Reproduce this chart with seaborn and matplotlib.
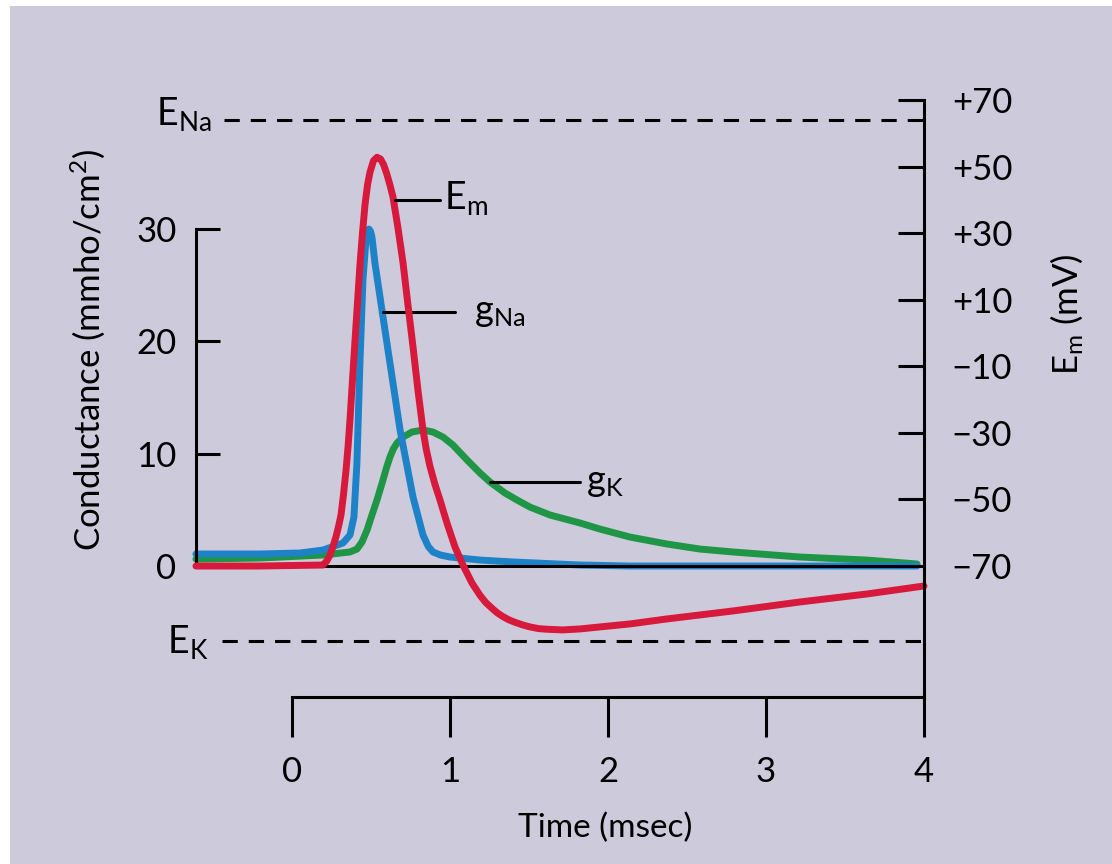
import matplotlib
matplotlib.use("Agg")
import matplotlib.pyplot as plt
from matplotlib.patches import Rectangle
import numpy as np
import pandas as pd
import seaborn as sns

# ---------------- data ----------------
# membrane potential E_m (mV) vs time (msec)
t_em = [-0.608, -0.203, 0.196, 0.220, 0.241, 0.260, 0.278, 0.295, 0.310, 0.326,
        0.342, 0.355, 0.367, 0.383, 0.399, 0.415, 0.430, 0.446, 0.462, 0.478,
        0.494, 0.516, 0.538, 0.560, 0.580, 0.600, 0.620, 0.639, 0.671, 0.703,
        0.734, 0.766, 0.797, 0.829, 0.850, 0.873, 0.905, 0.937, 0.981, 1.032,
        1.082, 1.139, 1.190, 1.225, 1.266, 1.300, 1.335, 1.370, 1.411, 1.460,
        1.506, 1.560, 1.614, 1.715, 1.823, 1.949, 2.139, 2.373, 2.791, 3.215,
        3.639, 4.000]
em_mv = [-70.0, -70.0, -69.7, -68.5, -66.7, -64.0, -61.3, -58.0, -54.7, -48.5,
         -41.2, -34.0, -26.1, -14.0, -2.1, 9.5, 20.4, 30.0, 38.5, 44.5,
         48.4, 51.8, 52.8, 52.3, 50.6, 47.8, 44.5, 40.9, 31.5, 21.0,
         8.4, -4.2, -17.1, -29.1, -35.0, -40.0, -45.5, -50.2, -57.1, -64.3,
         -69.7, -75.1, -78.8, -80.9, -82.7, -84.1, -85.2, -86.1, -86.9, -87.7,
         -88.3, -88.8, -89.0, -89.2, -88.9, -88.3, -87.4, -85.9, -83.5, -80.8,
         -78.4, -76.0]

# sodium conductance g_Na (mmho/cm2)
t_gna = [-0.608, -0.203, 0.051, 0.196, 0.323, 0.367, 0.392, 0.411, 0.430, 0.449,
         0.468, 0.478, 0.487, 0.497, 0.506, 0.525, 0.576, 0.620, 0.684, 0.766,
         0.829, 0.862, 0.892, 0.940, 1.000, 1.190, 1.399, 1.823, 2.139, 3.956]
g_na = [1.07, 1.07, 1.16, 1.42, 2.05, 2.76, 4.36, 9.17, 18.07, 25.46,
        29.02, 29.8, 30.0, 29.8, 29.29, 26.97, 22.17, 18.07, 12.11, 6.14,
        2.76, 1.75, 1.25, 0.98, 0.80, 0.53, 0.36, 0.09, 0.0, 0.0]

# potassium conductance g_K (mmho/cm2)
t_gk = [-0.608, -0.203, 0.196, 0.367, 0.411, 0.443, 0.475, 0.506, 0.538, 0.576,
        0.598, 0.620, 0.642, 0.665, 0.703, 0.759, 0.829, 0.892, 0.956, 1.019,
        1.108, 1.190, 1.253, 1.348, 1.424, 1.506, 1.633, 1.823, 1.949, 2.139,
        2.373, 2.582, 2.791, 3.215, 3.639, 3.956]
g_k = [0.62, 0.71, 0.98, 1.25, 1.51, 2.14, 3.20, 4.54, 5.88, 7.66,
       8.75, 9.70, 10.45, 10.95, 11.48, 11.93, 12.11, 11.93, 11.48, 10.77,
       9.44, 8.28, 7.48, 6.50, 5.88, 5.25, 4.54, 3.83, 3.29, 2.58,
       1.96, 1.51, 1.25, 0.80, 0.53, 0.18]

E_NA = 64.0   # mV
E_K = -92.5   # mV

x_ticks = [0, 1, 2, 3, 4]
g_ticks = [0, 10, 20, 30]
mv_ticks = [-70, -50, -30, -10, 10, 30, 50, 70]
mv_ticklabels = ["\u221270", "\u221250", "\u221230", "\u221210", "+10", "+30", "+50", "+70"]

# ---------------- style ----------------
sns.set_theme(style="white")
FONT = ["Lato", "DejaVu Sans"]
plt.rcParams["font.family"] = FONT
plt.rcParams["axes.edgecolor"] = "black"
plt.rcParams["mathtext.default"] = "regular"

BG = "#cdcadc"
RED = "#d7193c"
BLUE = "#1e82c8"
GREEN = "#1e9646"
LW = 5.0
AX_LW = 2.2
FS = 25

fig = plt.figure(figsize=(11.12, 8.64), dpi=100)
fig.patch.set_facecolor("white")
fig.patches.append(Rectangle((10 / 1112, 0), 1, 1 - 6 / 864, transform=fig.transFigure,
                             facecolor=BG, edgecolor="none", zorder=-10))

W, H = 1112, 864
L, R, T, B = 150, 1000, 80, 760
ax = fig.add_axes([L / W, 1 - B / H, (R - L) / W, (B - T) / H])
ax.set_facecolor("none")

XLIM = (-0.8987, 4.481)
GLIM = (-17.27, 43.27)
MV_PER_G = 3.3747
MVLIM = (-70 + GLIM[0] * MV_PER_G, -70 + GLIM[1] * MV_PER_G)
X_LEFT = -0.608

df_na = pd.DataFrame({"t": t_gna, "g": g_na})
df_k = pd.DataFrame({"t": t_gk, "g": g_k})
df_em = pd.DataFrame({"t": t_em, "mv": em_mv})

sns.lineplot(data=df_k, x="t", y="g", ax=ax, color=GREEN, linewidth=LW, estimator=None,
             sort=False, solid_capstyle="round", solid_joinstyle="round")
sns.lineplot(data=df_na, x="t", y="g", ax=ax, color=BLUE, linewidth=LW, estimator=None,
             sort=False, solid_capstyle="round", solid_joinstyle="round")

ax.hlines(0, X_LEFT, 3.85, color="black", lw=AX_LW, zorder=5)

ax.set_xlim(*XLIM)
ax.set_ylim(*GLIM)

# spines
for s in ["top", "right"]:
    ax.spines[s].set_visible(False)
ax.spines["left"].set_position(("data", X_LEFT))
ax.spines["left"].set_bounds(0, 30)
ax.spines["bottom"].set_position(("data", -11.66))
ax.spines["bottom"].set_bounds(0, 4)
for s in ["left", "bottom"]:
    ax.spines[s].set_linewidth(AX_LW)
    ax.spines[s].set_color("black")

ax.set_xticks(x_ticks)
ax.set_xticklabels([str(v) for v in x_ticks])
ax.set_yticks(g_ticks)
ax.set_yticklabels([str(v) for v in g_ticks])
ax.tick_params(axis="x", direction="out", length=28.5, width=AX_LW, pad=14,
               labelsize=FS, colors="black", bottom=True)
ax.tick_params(axis="y", direction="in", length=17, width=AX_LW, pad=14,
               labelsize=FS, colors="black", left=True)

ax.set_xlabel("Time (msec)", fontsize=FS - 1, color="black")
ax.xaxis.set_label_coords(0.535, -0.10)
ax.xaxis.label.set_va("center")
ax.set_ylabel("Conductance (mmho/cm$^2$)", fontsize=FS, color="black")
ax.yaxis.set_label_coords(-0.073, 0.603)
ax.yaxis.label.set_va("center")

# membrane potential axis
ax2 = ax.twinx()
ax2.set_facecolor("none")
sns.lineplot(data=df_em, x="t", y="mv", ax=ax2, color=RED, linewidth=LW, estimator=None,
             sort=False, solid_capstyle="round", solid_joinstyle="round")
ax2.set_ylim(*MVLIM)
ax2.set_xlim(*XLIM)
for s in ["top", "left", "bottom"]:
    ax2.spines[s].set_visible(False)
ax2.spines["right"].set_position(("data", 4.0))
ax2.spines["right"].set_bounds(-109.4, 70)
ax2.spines["right"].set_linewidth(AX_LW)
ax2.spines["right"].set_color("black")
ax2.set_yticks(mv_ticks)
ax2.set_yticklabels(mv_ticklabels)
for lab in ax2.get_yticklabels():
    lab.set_ha("left")
ax2.tick_params(axis="y", direction="in", length=18.5, width=AX_LW, pad=20,
                labelsize=FS, colors="black", right=True)
ax2.set_ylabel("E$_m$ (mV)", fontsize=FS, color="black", rotation=90)
ax2.yaxis.set_label_coords(1.078, 0.656)
ax2.yaxis.label.set_va("center")
ax2.set_xlabel("")

# reversal potentials
ax2.hlines([E_NA, E_K], [-0.43, -0.44], 4.0, color="black", lw=AX_LW,
           linestyles=(0, (5, 3.6)))
ax2.text(-0.51, 62.4, "E$_{Na}$", fontsize=FS + 2, ha="right", va="baseline", color="black")
ax2.text(-0.53, -96.1, "E$_K$", fontsize=FS + 2, ha="right", va="baseline", color="black")

# curve labels with leader lines
ax2.plot([0.652, 0.937], [40, 40], color="black", lw=AX_LW)
ax2.text(0.962, 40.5, "E$_m$", fontsize=FS + 2, ha="left", va="center", color="black")
ax.plot([0.576, 1.032], [22.6, 22.6], color="black", lw=AX_LW)
ax.text(1.15, 22.6, "g$_{Na}$", fontsize=FS + 1, ha="left", va="center", color="black")
ax.plot([1.253, 1.823], [7.48, 7.48], color="black", lw=AX_LW)
ax.text(1.86, 7.4, "g$_K$", fontsize=FS + 1, ha="left", va="center", color="black")

fig.savefig("out.png", dpi=100, facecolor=fig.get_facecolor())
